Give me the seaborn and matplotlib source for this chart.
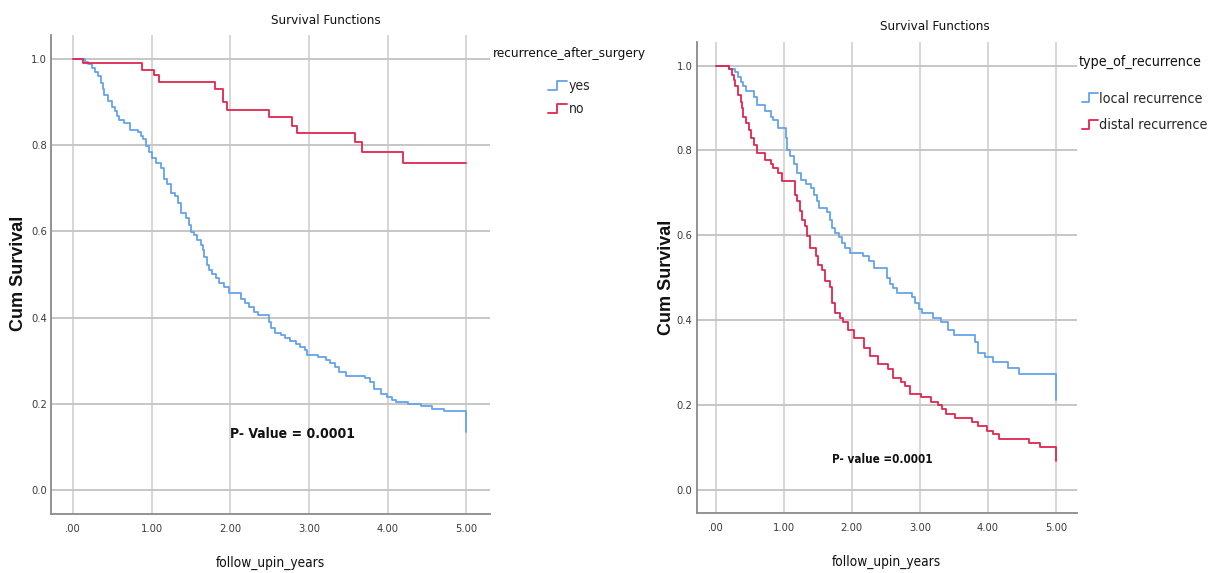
import matplotlib
matplotlib.use("Agg")
import matplotlib.pyplot as plt
from matplotlib import font_manager
from matplotlib.lines import Line2D
from matplotlib.legend_handler import HandlerBase
import pandas as pd
import seaborn as sns

# ---- Kaplan-Meier estimates: time of each step (years) and survival after it ----
# Panel 1: recurrence_after_surgery
yes_time = [0.00, 0.15, 0.19, 0.24, 0.28, 0.32, 0.36, 0.38, 0.40, 0.44, 0.49, 0.53,
            0.56, 0.59, 0.65, 0.72, 0.82, 0.86, 0.89, 0.93, 0.97, 1.01, 1.06, 1.12,
            1.16, 1.20, 1.25, 1.29, 1.33, 1.37, 1.44, 1.48, 1.50, 1.54, 1.58, 1.63,
            1.65, 1.67, 1.70, 1.73, 1.77, 1.82, 1.86, 1.92, 1.98, 2.14, 2.19, 2.24,
            2.30, 2.35, 2.49, 2.52, 2.57, 2.64, 2.70, 2.76, 2.83, 2.89, 2.95, 2.97,
            3.12, 3.21, 3.27, 3.33, 3.38, 3.47, 3.71, 3.78, 3.82, 3.92, 3.99, 4.05,
            4.11, 4.26, 4.42, 4.56, 4.72, 5.00]
yes_surv = [1.000, 0.993, 0.987, 0.978, 0.970, 0.959, 0.944, 0.930, 0.916, 0.901, 0.889, 0.878,
            0.868, 0.858, 0.852, 0.835, 0.830, 0.822, 0.814, 0.797, 0.785, 0.770, 0.758, 0.746,
            0.721, 0.710, 0.690, 0.681, 0.665, 0.642, 0.630, 0.615, 0.599, 0.592, 0.580, 0.568,
            0.557, 0.541, 0.522, 0.510, 0.501, 0.491, 0.480, 0.470, 0.458, 0.443, 0.433, 0.424,
            0.413, 0.407, 0.391, 0.375, 0.365, 0.360, 0.353, 0.346, 0.339, 0.331, 0.325, 0.313,
            0.308, 0.302, 0.294, 0.285, 0.274, 0.264, 0.259, 0.250, 0.234, 0.224, 0.217, 0.209,
            0.204, 0.201, 0.196, 0.188, 0.183, 0.135]
no_time = [0.00, 0.13, 0.88, 1.03, 1.09, 1.81, 1.90, 1.96, 2.49, 2.78, 2.85, 3.58, 3.67, 4.19, 5.00]
no_surv = [1.000, 0.990, 0.974, 0.962, 0.947, 0.930, 0.899, 0.882, 0.864, 0.845, 0.828, 0.807,
           0.785, 0.759, 0.759]

# Panel 2: type_of_recurrence
local_time = [0.00, 0.19, 0.29, 0.33, 0.37, 0.40, 0.44, 0.56, 0.61, 0.73, 0.81, 0.85, 0.92,
              1.03, 1.05, 1.10, 1.15, 1.20, 1.26, 1.33, 1.40, 1.45, 1.49, 1.52, 1.64, 1.68,
              1.71, 1.76, 1.81, 1.86, 1.90, 1.98, 2.17, 2.25, 2.33, 2.51, 2.56, 2.61, 2.67,
              2.88, 2.93, 2.98, 3.03, 3.19, 3.31, 3.41, 3.50, 3.81, 3.85, 3.96, 4.08, 4.30,
              4.46, 5.00]
local_surv = [1.000, 0.992, 0.986, 0.974, 0.962, 0.951, 0.939, 0.927, 0.908, 0.892, 0.880, 0.872,
              0.854, 0.829, 0.802, 0.786, 0.768, 0.747, 0.731, 0.721, 0.712, 0.694, 0.680, 0.665,
              0.654, 0.637, 0.617, 0.606, 0.596, 0.582, 0.570, 0.558, 0.551, 0.539, 0.523, 0.498,
              0.486, 0.476, 0.464, 0.454, 0.441, 0.427, 0.416, 0.404, 0.396, 0.376, 0.365, 0.348,
              0.323, 0.313, 0.301, 0.288, 0.273, 0.211]
distal_time = [0.00, 0.19, 0.24, 0.27, 0.29, 0.33, 0.37, 0.39, 0.41, 0.45, 0.49, 0.52, 0.56,
               0.61, 0.72, 0.81, 0.85, 0.92, 0.97, 1.16, 1.20, 1.24, 1.27, 1.32, 1.34, 1.38,
               1.47, 1.51, 1.56, 1.61, 1.68, 1.71, 1.76, 1.83, 1.87, 1.95, 2.03, 2.18, 2.27,
               2.39, 2.53, 2.60, 2.73, 2.78, 2.86, 3.01, 3.16, 3.27, 3.33, 3.39, 3.52, 3.76,
               3.85, 3.99, 4.07, 4.16, 4.60, 4.77, 5.00]
distal_surv = [1.000, 0.992, 0.978, 0.966, 0.951, 0.931, 0.915, 0.900, 0.880, 0.864, 0.849, 0.829,
               0.813, 0.794, 0.778, 0.768, 0.759, 0.747, 0.728, 0.694, 0.680, 0.657, 0.637, 0.622,
               0.598, 0.570, 0.551, 0.531, 0.519, 0.492, 0.478, 0.441, 0.417, 0.406, 0.395, 0.376,
               0.358, 0.335, 0.315, 0.297, 0.284, 0.263, 0.255, 0.245, 0.226, 0.218, 0.206, 0.199,
               0.191, 0.178, 0.170, 0.159, 0.151, 0.139, 0.132, 0.120, 0.109, 0.100, 0.068]

x_ticks = [0, 1, 2, 3, 4, 5]
x_tick_labels = [".00", "1.00", "2.00", "3.00", "4.00", "5.00"]
y_ticks = [0.0, 0.2, 0.4, 0.6, 0.8, 1.0]
y_tick_labels = ["0.0", "0.2", "0.4", "0.6", "0.8", "1.0"]

BLUE = "#64a2ea"
RED = "#e0264f"
INK = "#111111"

sns.set_style("white")
available = {f.name for f in font_manager.fontManager.ttflist}
if "Liberation Sans Narrow" in available:
    NARROW, STRETCH = "Liberation Sans Narrow", "normal"
else:
    NARROW, STRETCH = "DejaVu Sans", "condensed"
plt.rcParams["font.family"] = [NARROW, "DejaVu Sans"]
plt.rcParams["font.stretch"] = STRETCH

W, H = 1209, 573
fig = plt.figure(figsize=(W / 100, H / 100), dpi=100)


class StepHandler(HandlerBase):
    """Legend key drawn as a small rising step."""
    def create_artists(self, legend, orig_handle, xdescent, ydescent,
                       width, height, fontsize, trans):
        x0 = -xdescent
        x1 = x0 + width
        xm = x0 + 0.45 * width
        y0 = -ydescent + 0.05 * height
        y1 = -ydescent + 0.95 * height
        ln = Line2D([x0, xm, xm, x1], [y0, y0, y1, y1],
                    color=orig_handle.get_color(), lw=orig_handle.get_linewidth())
        ln.set_transform(trans)
        return [ln]


def km_frame(groups):
    rows = []
    for name, t, s in groups:
        for ti, si in zip(t, s):
            rows.append({"follow_upin_years": ti, "Cum Survival": si, "group": name})
    return pd.DataFrame(rows)


def style_axes(ax, xlab_coords, ylab_coords):
    ax.set_xlim(-0.28, 5.30)
    ax.set_ylim(-0.055, 1.055)
    ax.set_xticks(x_ticks)
    ax.set_xticklabels(x_tick_labels)
    ax.set_yticks(y_ticks)
    ax.set_yticklabels(y_tick_labels)
    ax.tick_params(axis="both", length=0, labelsize=8, labelcolor="#3a3a3a")
    ax.tick_params(axis="x", pad=7.5)
    ax.tick_params(axis="y", pad=3)
    ax.set_axisbelow(True)
    ax.xaxis.grid(True, color="#d6d6d6", lw=1.4)
    ax.yaxis.grid(True, color="#c6c6c6", lw=1.4)
    for side in ("top", "right"):
        ax.spines[side].set_visible(False)
    for side in ("left", "bottom"):
        ax.spines[side].set_color("#8a8a8a")
        ax.spines[side].set_linewidth(1.3)
    ax.set_xlabel("follow_upin_years", fontsize=9.8, color=INK)
    ax.xaxis.set_label_coords(*xlab_coords)
    ax.xaxis.label.set_va("center")
    ax.set_ylabel("Cum Survival", fontsize=13, fontweight="bold",
                  family=["Liberation Sans", "DejaVu Sans"], fontstretch="normal",
                  color=INK)
    ax.yaxis.set_label_coords(*ylab_coords)
    ax.yaxis.label.set_va("center")


def step_legend(labels, colors, left_px, top_px, size, spacing, hlen):
    fig.legend(handles=[Line2D([], [], color=c, lw=1.3) for c in colors],
               labels=labels, loc="upper left",
               bbox_to_anchor=(left_px / W, 1 - top_px / H),
               frameon=False, handler_map={Line2D: StepHandler()},
               handlelength=hlen, handletextpad=0.1, labelspacing=spacing,
               borderpad=0, borderaxespad=0, prop={"size": size})


# ---------------- left panel ----------------
ax1 = fig.add_axes([51 / W, 1 - 514 / H, 439 / W, 479 / H])
df1 = km_frame([("yes", yes_time, yes_surv), ("no", no_time, no_surv)])
sns.lineplot(data=df1, x="follow_upin_years", y="Cum Survival", hue="group",
             palette={"yes": BLUE, "no": RED}, drawstyle="steps-post",
             estimator=None, sort=False, legend=False, lw=1.3, ax=ax1)
style_axes(ax1, (0.50, -0.102), (-0.074, 0.503))
ax1.text(2.79, 0.13, "P- Value = 0.0001", fontsize=10, fontweight="bold",
         ha="center", va="center", color=INK)
fig.text(326 / W, 1 - 20 / H, "Survival Functions", fontsize=9.6, ha="center",
         va="center", color=INK)
fig.text(569 / W, 1 - 53 / H, "recurrence_after_surgery", fontsize=9.7,
         ha="center", va="center", color=INK)
step_legend(["yes", "no"], [BLUE, RED], 548, 79, 10, 0.65, 1.4)

# ---------------- right panel ----------------
ax2 = fig.add_axes([696.5 / W, 1 - 513 / H, 380 / W, 470.7 / H])
df2 = km_frame([("local recurrence", local_time, local_surv),
                ("distal recurrence", distal_time, distal_surv)])
sns.lineplot(data=df2, x="follow_upin_years", y="Cum Survival", hue="group",
             palette={"local recurrence": BLUE, "distal recurrence": RED},
             drawstyle="steps-post", estimator=None, sort=False, legend=False,
             lw=1.3, ax=ax2)
style_axes(ax2, (0.50, -0.104), (-0.078, 0.501))
ax2.text(2.45, 0.072, "P- value =0.0001", fontsize=8.4, fontweight="bold",
         ha="center", va="center", color=INK)
fig.text(935 / W, 1 - 27 / H, "Survival Functions", fontsize=9.6, ha="center",
         va="center", color=INK)
fig.text(1140 / W, 1 - 62 / H, "type_of_recurrence", fontsize=10.3,
         ha="center", va="center", color=INK)
step_legend(["local recurrence", "distal recurrence"], [BLUE, RED], 1082, 92, 10.3, 0.85, 1.1)

fig.savefig("out.png", dpi=100)
